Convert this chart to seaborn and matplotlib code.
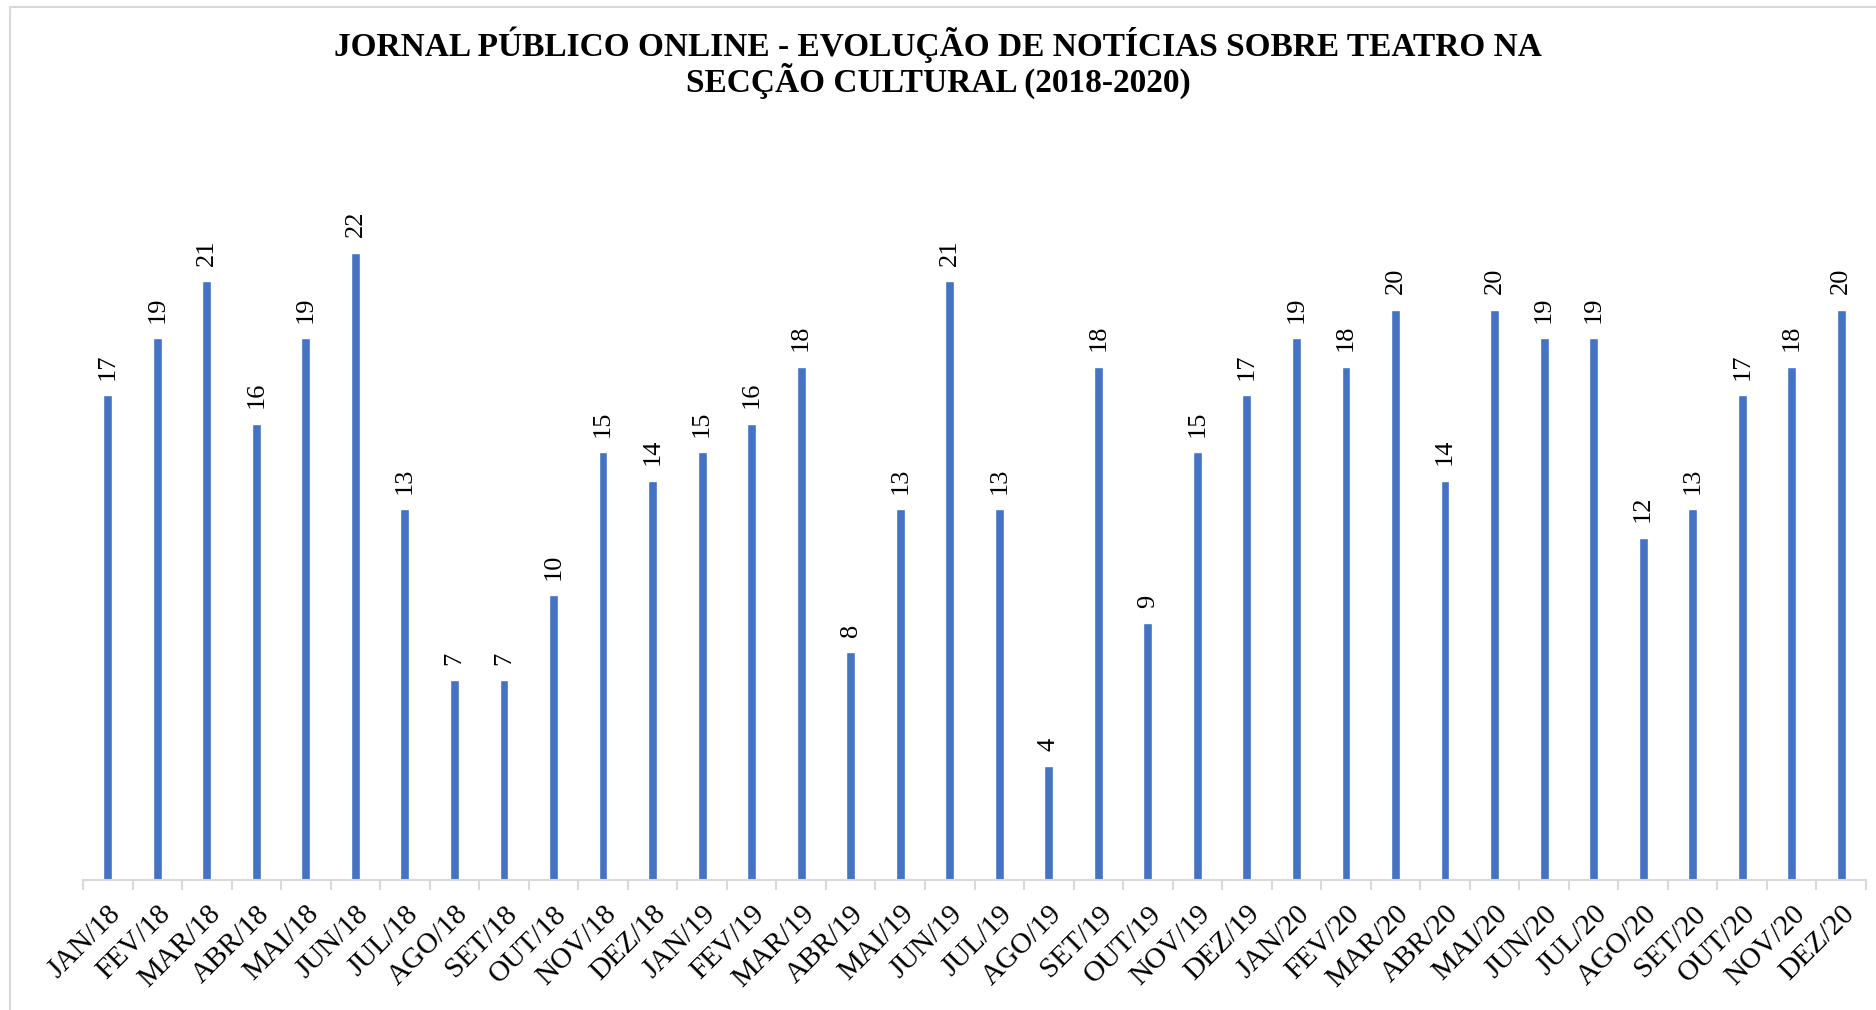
import matplotlib.pyplot as plt
import seaborn as sns
import pandas as pd
from matplotlib.patches import Rectangle

# dados do gráfico
meses = ['JAN', 'FEV', 'MAR', 'ABR', 'MAI', 'JUN', 'JUL', 'AGO', 'SET', 'OUT', 'NOV', 'DEZ']
anos = ['18', '19', '20']
noticias_2018 = [17, 19, 21, 16, 19, 22, 13, 7, 7, 10, 15, 14]
noticias_2019 = [15, 16, 18, 8, 13, 21, 13, 4, 18, 9, 15, 17]
noticias_2020 = [19, 18, 20, 14, 20, 19, 19, 12, 13, 17, 18, 20]

categorias = [f'{m}/{a}' for a in anos for m in meses]
valores = noticias_2018 + noticias_2019 + noticias_2020
df = pd.DataFrame({'Mes': categorias, 'Noticias': valores})

sns.set_style('white')
plt.rcParams['font.family'] = ['Liberation Serif', 'DejaVu Serif']
plt.rcParams['text.color'] = 'black'
plt.rcParams['xtick.labelcolor'] = 'black'

fig = plt.figure(figsize=(18.76, 10.10), dpi=100)
ax = fig.add_axes([83 / 1876, 130 / 1010, 1783 / 1876, (880 - 167) / 1010])

sns.barplot(data=df, x='Mes', y='Noticias', color='#4472C4', width=0.18,
            saturation=1, ax=ax)

ax.bar_label(ax.containers[0], rotation=90, padding=11, fontsize=19, color='black')

ax.set_ylim(0, 25)
ax.set_xlim(-0.5, len(categorias) - 0.5)
ax.set_xlabel('')
ax.set_ylabel('')
ax.set_yticks([])

for lado in ['top', 'right', 'left']:
    ax.spines[lado].set_visible(False)
ax.spines['bottom'].set_color('#d9d9d9')
ax.spines['bottom'].set_linewidth(1.5)

# marcas entre categorias
ax.set_xticks([i - 0.5 for i in range(len(categorias) + 1)], minor=True)
ax.tick_params(axis='x', which='minor', length=7, width=1.5, color='#d9d9d9', bottom=True)
ax.tick_params(axis='x', which='major', length=0, pad=15)
ax.set_xticks(range(len(categorias)))
ax.set_xticklabels(categorias, rotation=45, ha='right', va='top',
                   rotation_mode='anchor', fontsize=21, color='black')

fig.text(0.5, 1 - 45 / 1010, 'JORNAL PÚBLICO ONLINE - EVOLUÇÃO DE NOTÍCIAS SOBRE TEATRO NA',
         ha='center', va='center', fontsize=24, fontweight='bold', color='black')
fig.text(0.5, 1 - 81 / 1010, 'SECÇÃO CULTURAL (2018-2020)',
         ha='center', va='center', fontsize=24, fontweight='bold', color='black')

# moldura da área do gráfico
fig.patches.append(Rectangle((10 / 1876, -0.01), 1.0, 1 - 7 / 1010 + 0.01,
                             transform=fig.transFigure, fill=False,
                             edgecolor='#d9d9d9', linewidth=1.5))

fig.savefig('out.png', dpi=100)
